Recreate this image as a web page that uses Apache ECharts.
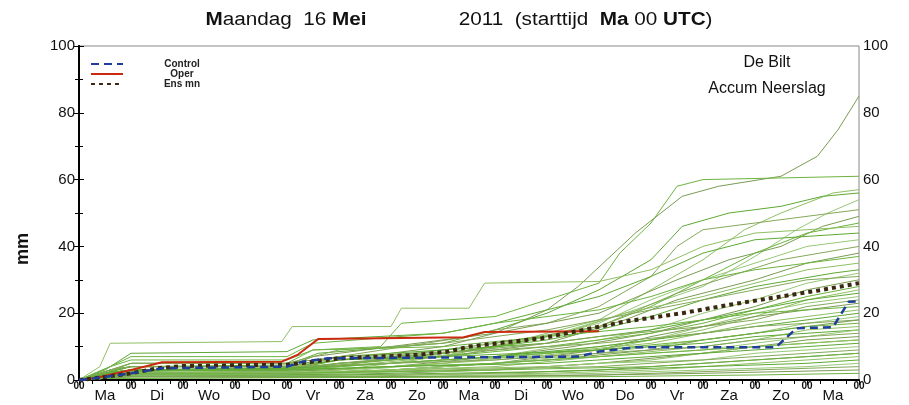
<!DOCTYPE html>
<html><head><meta charset="utf-8">
<script src="https://cdn.jsdelivr.net/npm/echarts/dist/echarts.min.js"></script>
<style>html,body{margin:0;padding:0;background:#fff}#c{width:909px;height:405px}</style>
</head><body><div id="c"></div>
<script>
// ---- data (x = days since Ma 16 Mei 00 UTC, y = accumulated mm) ----
const dayLabels = ['Ma','Di','Wo','Do','Vr','Za','Zo','Ma','Di','Wo','Do','Vr','Za','Zo','Ma'];
const hourLabel = '00';
const titleText = '{b|M}aandag  16 {b|Mei}                2011  (starttijd  {b|Ma} 00 {b|UTC})';
const stationLines = ['De Bilt', 'Accum Neerslag'];
const yName = 'mm';

const controlRun = [[0,0],[0.3,0.5],[1,2],[1.6,3.5],[4,4],[4.3,5.5],[4.8,6.5],[9.6,7],[10,8.5],[10.7,9.8],[13.4,9.8],[13.8,15.5],[14.5,15.8],[14.8,23.4],[15,23.5]];
const operRun = [[0,0],[0.3,0.5],[1,3],[1.6,5.3],[3.9,5.5],[4.2,7.5],[4.6,12.3],[7.4,12.8],[7.8,14.4],[10,14.6]];
const ensMean = [[0,0],[0.3,0.5],[1,2],[1.5,3.5],[2,4.2],[4,4.6],[4.5,5.5],[5,6.5],[6.5,7.5],[7.1,8.5],[7.5,10],[8.9,12.5],[9.7,15],[10.5,17.5],[11.6,20],[12.5,22.5],[13.5,25],[14.3,27],[15,29]];

const members = [
 [[0,0],[0.4,1],[1,3],[4,3.5],[5,6],[7,10],[8,14],[9,21],[9.6,28],[10.7,44],[11.6,55],[12.3,58],[13.5,61],[14.2,67],[14.6,75],[15,85]],
 [[0,0],[0.5,2],[1,5],[4,5],[4.5,9],[5.8,10],[6.2,17],[8,19],[9,24],[10,29],[10.4,38],[11,47],[11.5,58],[12,60],[15,61]],
 [[0,0],[0.5,1],[1,2],[4,2.5],[5,4],[7,7],[8.5,12],[10,18],[11,27],[12,36],[12.8,45],[13.5,50],[14,53],[14.5,56],[15,57]],
 [[0,0],[0.6,3],[1,4],[4,4.5],[4.6,8],[7,11],[8,15],[9,20],[10,27],[11,36],[11.6,46],[12.5,50],[13.5,52],[14.3,55],[15,56]],
 [[0,0],[0.5,1.5],[1,2],[4,3],[5,5],[7.5,8],[9,13],[10.5,20],[12,28],[13,37],[13.8,45],[14.4,50],[15,54]],
 [[0,0],[0.5,2],[1,3],[4,3],[5,7],[7.5,13],[8,15],[9,17],[10,22],[11,31],[11.5,40],[12,45],[13,47],[14,49],[15,51]],
 [[0,0],[0.5,2],[1,4],[4,4],[4.5,7],[7,12],[8,14],[10,20],[11.5,30],[12.5,36],[13.5,40],[14.3,46],[15,49]],
 [[0,0],[0.5,1],[1,2.5],[4,3],[6,6],[8,10],[10,16],[11,22],[12,30],[13,38],[14,44],[15,47]],
 [[0,0],[0.4,4],[0.6,11],[3.9,11.5],[4.1,16],[6,16],[6.2,21.5],[7.5,21.5],[7.8,29],[10,29.5],[11,33],[12,40],[13,44],[15,46]],
 [[0,0],[0.5,3],[1,8],[4,8.5],[4.5,12],[7,14],[8,17],[9,21],[10,25],[11,31],[12,38],[13,42],[15,44]],
 [[0,0],[0.5,1],[1,3],[4,3],[5,6],[7,9],[9,13],[10,17],[11,24],[12,30],[13,35],[14,40],[15,42]],
 [[0,0],[0.5,2],[1,3],[5,4],[6,7],[8,11],[10,16],[11.5,26],[12.5,31],[13.5,36],[15,40]],
 [[0,0],[0.5,1],[1,2],[4,2],[5,5],[7,7],[9,11],[10.5,18],[11.5,24],[13,30],[14,35],[15,38]],
 [[0,0],[0.6,4],[1,7],[4,7],[4.5,11],[7,14],[8,17],[10,21],[11,25],[12,30],[13,33],[14,35],[15,37]],
 [[0,0],[0.5,1],[1,2],[5,3],[6.5,6],[8,10],[9.5,15],[10.5,20],[12,25],[13,29],[14,33],[15,35]],
 [[0,0],[0.5,2],[1,3],[4,3],[5,6],[7,8],[9,12],[10,15],[11,19],[12,24],[13,28],[14.5,32],[15,33]],
 [[0,0],[0.5,1],[1,2],[4,2],[5,4],[8,7],[10,12],[11,15],[12,20],[13,24],[14,29],[15,32]],
 [[0,0],[0.6,3],[1,5],[4,5],[5,9],[7,11],[9,15],[10,18],[12,24],[13,27],[14,30],[15,31]],
 [[0,0],[0.5,1],[1,2],[4,2.5],[6,4],[8,7],[9.5,10],[11,14],[12,18],[13,22],[14,27],[15,30]],
 [[0,0],[0.5,2],[1,3],[4,3.5],[5,5],[7,7],[9,10],[11,14],[12,17],[13,21],[14,25],[15,28]],
 [[0,0],[0.5,1],[1,2],[4,2],[6,4],[8,6],[10,9],[11,12],[12,15],[13,19],[14,24],[15,27]],
 [[0,0],[0.6,3],[1,4],[4,4],[5,7],[7,9],[9,11],[11,15],[12,18],[13,21],[14,24],[15,26]],
 [[0,0],[0.5,1],[1,2],[5,2.5],[7,5],[9,8],[11,12],[12,16],[13,20],[14,23],[15,25]],
 [[0,0],[0.5,2],[1,3],[4,3],[5,5],[7,8],[9,11],[10,13],[12,16],[13,18],[14,22],[15,24]],
 [[0,0],[0.5,1],[1,1.5],[4,1.5],[6,3],[8,5],[10,9],[11,13],[12,16],[13,19],[14,21],[15,23]],
 [[0,0],[0.6,4],[1,6],[4,6],[4.5,9],[7,10],[9,13],[11,16],[12,18],[13,20],[14,21],[15,22]],
 [[0,0],[0.5,1],[1,2],[4,2],[5,3],[7,5],[9,8],[11,11],[12,14],[13,17],[14,19],[15,21]],
 [[0,0],[0.5,2],[1,3],[4,3.5],[6,5],[8,7],[10,10],[12,14],[13,16],[14,18],[15,20]],
 [[0,0],[0.5,1],[1,2],[4,2],[6,3],[8,5],[10,8],[12,12],[13,14],[14,17],[15,19]],
 [[0,0],[0.6,3],[1,5],[4,5],[5,7],[8,9],[10,11],[12,14],[13,16],[14,17],[15,18]],
 [[0,0],[0.5,1],[1,2],[5,2],[7,4],[9,6],[11,9],[12,12],[13,14],[14,16],[15,18]],
 [[0,0],[0.5,2],[1,3],[4,3],[6,5],[8,7],[10,9],[12,12],[13,14],[14,16],[15,17]],
 [[0,0],[0.5,1],[1,1.5],[4,2],[6,3],[8,4],[10,7],[12,10],[13,12],[14,15],[15,16]],
 [[0,0],[0.5,2],[1,4],[4,4],[5,6],[7,7],[10,9],[12,11],[13,13],[14,14],[15,15]],
 [[0,0],[0.5,1],[1,2],[4,2],[6,3],[8,5],[10,7],[12,9],[13,11],[14,13],[15,15]],
 [[0,0],[0.6,3],[1,4],[4,4],[6,5],[8,6],[10,8],[12,10],[13,12],[14,13],[15,14]],
 [[0,0],[0.5,1],[1,1],[4,1.5],[6,2],[8,3],[10,5],[12,8],[13,10],[14,12],[15,13]],
 [[0,0],[0.5,2],[1,3],[4,3],[6,4],[8,5],[10,7],[12,9],[13,10],[14,11],[15,12]],
 [[0,0],[0.5,1],[1,2],[4,2],[6,3],[9,4],[11,6],[12,8],[13,10],[14,11],[15,12]],
 [[0,0],[0.6,2],[1,3],[4,3],[6,4],[9,5],[11,7],[12,8],[13,9],[14,10],[15,11]],
 [[0,0],[0.5,1],[1,1.5],[5,2],[8,3],[10,5],[12,6],[13,8],[14,9],[15,10]],
 [[0,0],[0.5,1],[1,2],[4,2],[7,3],[10,4],[12,6],[13,7],[14,8],[15,9]],
 [[0,0],[0.5,0.5],[1,1],[5,1],[8,2],[10,3],[12,5],[13,6],[14,7],[15,8]],
 [[0,0],[0.5,1],[1,2],[4,2],[8,3],[11,4],[12,5],[14,7],[15,8]],
 [[0,0],[0.5,0.5],[1,1],[6,1.5],[9,2],[11,3],[13,5],[14,6],[15,7]],
 [[0,0],[0.5,1],[1,1.5],[5,1.5],[9,2.5],[12,4],[14,5],[15,6]],
 [[0,0],[0.5,0.5],[1,1],[6,1],[10,2],[12,3],[14,4],[15,5]],
 [[0,0],[0.5,0.5],[1,0.5],[6,1],[10,1.5],[13,3],[15,4]],
 [[0,0],[0.5,0.5],[1,1],[8,1],[12,2],[15,3]],
 [[0,0],[0.5,0.5],[1,0.5],[10,1],[13,1.5],[15,2]]
];

// ---- styles ----
const greens = ['#7a9c52','#6db33f','#8fbf63','#5ea834','#98c878','#84a85a'];
const FONT = "'Liberation Sans',Arial,sans-serif";

const chart = echarts.init(document.getElementById('c'), null, {renderer:'canvas'});

const series = members.map((d, i) => ({
  type:'line', data:d, symbol:'none', silent:true, z:2,
  lineStyle:{width:1, color:greens[i % greens.length]},
  emphasis:{disabled:true}
}));
series.push({
  name:'Ens mn', type:'line', data:ensMean, symbol:'none', z:4,
  itemStyle:{color:'#3a2812'},
  lineStyle:{width:4, color:'#3a2812', type:[4,4], cap:'butt'}
});
series.push({
  name:'Control', type:'line', data:controlRun, symbol:'none', z:5,
  itemStyle:{color:'#1f3d9a'},
  lineStyle:{width:2.5, color:'#1f3d9a', type:[8,5]}
});
series.push({
  name:'Oper', type:'line', data:operRun, symbol:'none', z:3,
  itemStyle:{color:'#cc2a10'},
  lineStyle:{width:2, color:'#cc2a10'}
});

const yAxisBase = (pos) => ({
  type:'value', min:0, max:100, interval:20, position:pos,
  axisLine:{show:true, lineStyle:{color:'#000', width:2}},
  axisTick:{show:true, length:5, lineStyle:{color:'#000'}},
  minorTick:{show:true, splitNumber:2, length:4, lineStyle:{color:'#000'}},
  splitLine:{show:false},
  axisLabel:{fontSize:15, color:'#111', margin:4, fontFamily:FONT}
});

chart.setOption({
  animation:false,
  backgroundColor:'#fff',
  legend:{
    data:['Control','Oper','Ens mn'], orient:'vertical', left:85, top:54,
    itemWidth:32, itemHeight:7, itemGap:0,
    itemStyle:{opacity:0},
    formatter:'{a|{name}}',
    textStyle:{fontSize:10, fontWeight:'bold', color:'#222', fontFamily:FONT, lineHeight:9.5,
      padding:[0,0,0,29],
      rich:{a:{width:50, align:'center', fontSize:10, fontWeight:'bold', color:'#222', fontFamily:FONT, lineHeight:9.5}}}
  },
  grid:{left:79, right:50, top:46, bottom:25, show:true, borderColor:'#888', borderWidth:1},
  xAxis:[
    {type:'value', min:0, max:15, interval:1, position:'bottom',
     axisLine:{show:true, lineStyle:{color:'#000', width:2}},
     axisTick:{show:true, length:5, lineStyle:{color:'#000'}},
     minorTick:{show:true, splitNumber:4, length:4, lineStyle:{color:'#000'}},
     splitLine:{show:false},
     axisLabel:{formatter:() => hourLabel, fontSize:10, fontWeight:'bold', color:'#111', margin:1, fontFamily:FONT}},
    {type:'value', min:0, max:15, interval:0.5, position:'bottom',
     axisLine:{show:false}, axisTick:{show:false}, splitLine:{show:false},
     axisLabel:{formatter:(v) => (Math.abs(v % 1 - 0.5) < 1e-6 ? dayLabels[Math.floor(v)] : ''),
       fontSize:15, color:'#111', margin:8, fontFamily:FONT}}
  ],
  yAxis:[yAxisBase('left'), yAxisBase('right')],
  graphic:[
    {type:'text', x:459, y:20, scaleX:1.15, style:{text:titleText, font:"18px "+FONT, fill:'#111', textAlign:'center', textVerticalAlign:'middle',
      rich:{b:{font:"bold 18px "+FONT, fill:'#111'}}}},
    {type:'text', x:767, y:55, style:{text:stationLines[0], font:"16px "+FONT, fill:'#111', textAlign:'center'}},
    {type:'text', x:767, y:81, style:{text:stationLines[1], font:"16px "+FONT, fill:'#111', textAlign:'center'}},
    {type:'text', x:14, y:249, rotation:Math.PI/2, style:{text:yName, font:"bold 18px "+FONT, fill:'#111', textAlign:'center'}}
  ],
  series:series
});
</script></body></html>
